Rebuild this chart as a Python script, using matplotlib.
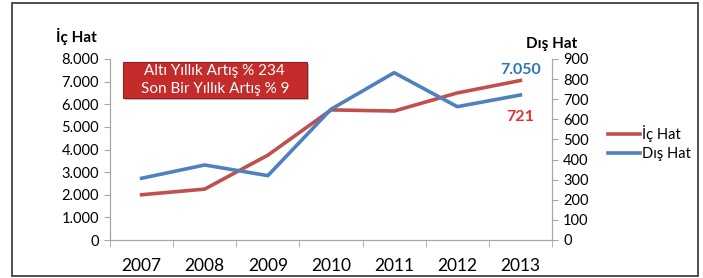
import numpy as np
import matplotlib.pyplot as plt
from matplotlib.patches import Rectangle

plt.rcParams['font.family'] = ['Lato', 'DejaVu Sans']

years = ['2007', '2008', '2009', '2010', '2011', '2012', '2013']
ic_hat = [2000, 2250, 3750, 5750, 5700, 6500, 7050]
dis_hat = [307, 373, 320, 650, 832, 663, 721]

red = '#c0504d'
blue = '#4f81bd'
grey = '#a6a6a6'

fig = plt.figure(figsize=(7.03, 2.78), dpi=100)

# outer frame
fig.add_artist(Rectangle((12/703, 2.5/278), 686/703, 272/278, transform=fig.transFigure,
                         fill=False, edgecolor='#404040', linewidth=1.3, clip_on=False, zorder=10))

ax = fig.add_axes([110/703, 1 - 240/278, 442/703, 181/278])
ax2 = ax.twinx()

x = np.arange(len(years))
ax.plot(x, ic_hat, color=red, linewidth=2.6, label='İç Hat')
ax2.plot(x, dis_hat, color=blue, linewidth=2.6, label='Dış Hat')

ax.set_xlim(-0.5, len(years) - 0.5)
ax.set_ylim(0, 8000)
ax2.set_ylim(0, 900)
ax.set_yticks(np.arange(0, 8001, 1000))
ax.set_yticklabels(['0'] + ['{:,}'.format(v).replace(',', '.') for v in range(1000, 8001, 1000)])
ax2.set_yticks(np.arange(0, 901, 100))
ax.set_xticks(x)
ax.set_xticklabels(years, fontsize=12.5)
ax.set_xticks(np.arange(-0.5, len(years), 1), minor=True)
ax.tick_params(axis='x', which='major', length=0, pad=13)
ax.tick_params(axis='x', which='minor', length=5, color=grey)
ax.tick_params(axis='y', length=4, color=grey, labelsize=10.5, pad=4)
ax2.tick_params(axis='y', length=4, color=grey, labelsize=10.5, pad=4)

for a in (ax, ax2):
    a.spines['top'].set_visible(False)
    for s in ('left', 'right', 'bottom'):
        a.spines[s].set_color(grey)

ax.text(-0.077, 1.08, 'İç Hat', transform=ax.transAxes, fontsize=11, fontweight='bold', ha='center', va='bottom')
ax.text(1.0, 1.045, 'Dış Hat', transform=ax.transAxes, fontsize=11, fontweight='bold', ha='center', va='bottom')

# annotation box
ax.add_patch(Rectangle((0.034, 0.775), 0.416, 0.199, transform=ax.transAxes,
                       facecolor='#7a7a7a', edgecolor='none', alpha=0.5, zorder=4))
ax.add_patch(Rectangle((0.029, 0.785), 0.416, 0.199, transform=ax.transAxes,
                       facecolor='#c42b2b', edgecolor='#9c1f1f', linewidth=0.8, zorder=5))
ax.text(0.237, 0.885, 'Altı Yıllık Artış % 234\nSon Bir Yıllık Artış % 9', transform=ax.transAxes,
        fontsize=11, color='white', ha='center', va='center', linespacing=1.35, zorder=6)

ax.text(6.0, 7500, '7.050', color='#2e75b6', fontsize=11.5, fontweight='bold', ha='center', va='center')
ax.text(6.0, 5420, '721', color='#e8312f', fontsize=11.5, fontweight='bold', ha='center', va='center')

h1, l1 = ax.get_legend_handles_labels()
h2, l2 = ax2.get_legend_handles_labels()
fig.legend(h1 + h2, l1 + l2, loc='center left', bbox_to_anchor=(602/703, 1 - 143/278), frameon=False,
           fontsize=10.5, handlelength=2.2, handletextpad=0.15, labelspacing=0.3, borderaxespad=0)

fig.savefig('out.png', dpi=100)
